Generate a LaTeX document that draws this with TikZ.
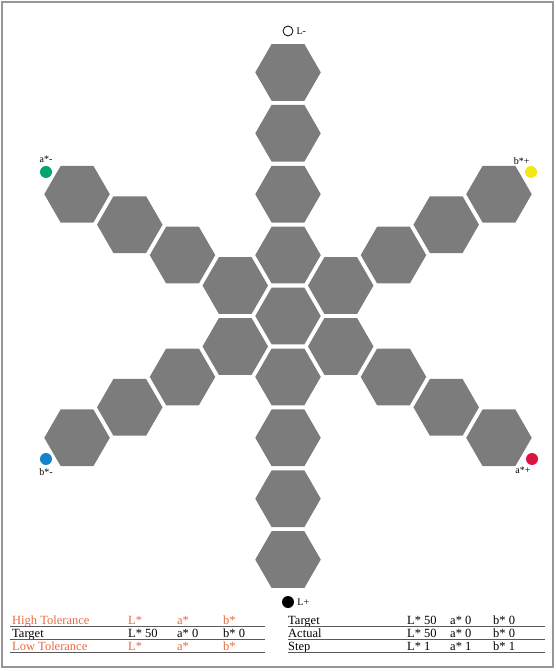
\documentclass[tikz,border=0pt]{standalone}
\usepackage{fontspec}
\setmainfont{Liberation Serif}
\usetikzlibrary{shapes.geometric, positioning}

\definecolor{hexgray}{RGB}{124,124,124}
\definecolor{tolorange}{RGB}{232,104,64}
\definecolor{dotgreen}{RGB}{0,166,110}
\definecolor{dotyellow}{RGB}{240,232,20}
\definecolor{dotblue}{RGB}{20,130,205}
\definecolor{dotred}{RGB}{222,20,60}
\definecolor{framegray}{RGB}{150,150,150}

\begin{document}
\begin{tikzpicture}[x=1pt, y=1pt,
    hexcell/.style={regular polygon, regular polygon sides=6, minimum size=65.5pt, inner sep=0pt, fill=hexgray},
    axisdot/.style={circle, minimum size=12pt, inner sep=0pt},
    axislabel/.style={font=\fontsize{10}{11}\selectfont, inner sep=1pt},
    cell/.style={font=\fontsize{12.5}{13}\selectfont, anchor=base west, inner sep=0pt},
    rule/.style={draw=black!65, line width=0.7pt}]

    \useasboundingbox (-288,-355) rectangle (267,316);

    % Frame
    \draw[framegray, line width=1.5pt] (-286,-351) rectangle (265,314);

    % Centre cell
    \node[hexcell] (hex0) at (0,0) {};

    % Six arms of the star
    \foreach \a in {30, 90, 150, 210, 270, 330}
        \foreach \k in {1, 2, 3, 4}
            \node[hexcell] (hex\a-\k) at (\a:\k*60.9) {};

    % Axis ends (L)
    \node[axisdot, draw=black, line width=0.8pt, minimum size=10pt] (lminus) at (0,285) {};
    \node[axislabel, right=2pt of lminus] (lminustext) {L-};
    \node[axisdot, fill=black] (lplus) at (0,-286) {};
    \node[axislabel, right=2pt of lplus] (lplustext) {L+};

    % Axis ends (a, b)
    \node[axisdot, fill=dotgreen] (aminus) at (-242,144) {};
    \node[axislabel, above=2pt of aminus] (aminustext) {a*-};
    \node[axisdot, fill=dotyellow] (bplus) at (243,144) {};
    \node[axislabel, above left=2pt and -4pt of bplus] (bplustext) {b*+};
    \node[axisdot, fill=dotblue] (bminus) at (-242,-143) {};
    \node[axislabel, below=2pt of bminus] (bminustext) {b*-};
    \node[axisdot, fill=dotred] (aplus) at (244,-143) {};
    \node[axislabel, below left=2pt and -4pt of aplus] (aplustext) {a*+};

    % Tolerance table
    \foreach \r/\name/\lv/\av/\bv/\col in {0/High Tolerance/L*/a*/b*/tolorange,
            1/Target/L* 50/a* 0/b* 0/black, 2/Low Tolerance/L*/a*/b*/tolorange} {
        \node[cell, text=\col] (tol\r) at (-276,-308-\r*13) {\name};
        \node[cell, text=\col] (tol\r l) at (-160,-308-\r*13) {\lv};
        \node[cell, text=\col] (tol\r a) at (-111,-308-\r*13) {\av};
        \node[cell, text=\col] (tol\r b) at (-65,-308-\r*13) {\bv};
        \draw[rule] (-278,-310.5-\r*13) -- (-23,-310.5-\r*13);
    }

    % Target / actual table
    \foreach \r/\name/\lv/\av/\bv in {0/Target/L* 50/a* 0/b* 0,
            1/Actual/L* 50/a* 0/b* 0, 2/Step/L* 1/a* 1/b* 1} {
        \node[cell] (act\r) at (0,-308-\r*13) {\name};
        \node[cell] (act\r l) at (119,-308-\r*13) {\lv};
        \node[cell] (act\r a) at (162,-308-\r*13) {\av};
        \node[cell] (act\r b) at (205,-308-\r*13) {\bv};
        \draw[rule] (0,-310.5-\r*13) -- (257,-310.5-\r*13);
    }

\end{tikzpicture}
\end{document}
